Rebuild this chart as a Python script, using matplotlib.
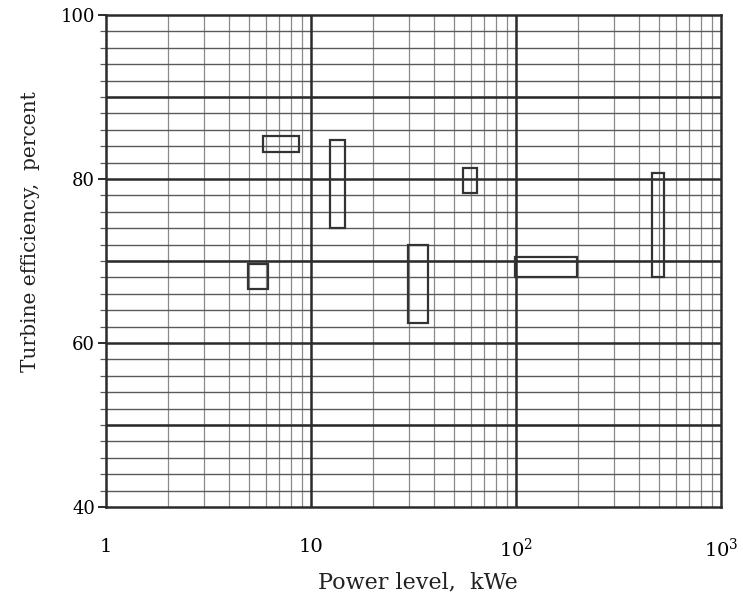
import numpy as np
import matplotlib
matplotlib.use('Agg')
import matplotlib.pyplot as plt
from matplotlib.patches import Rectangle

# operating ranges of each turbine: power span (kWe) and efficiency span (percent)
power_low  = [5.8, 12.4, 4.9, 29.8, 55.3, 99.0, 462.0]
power_high = [8.7, 14.6, 6.2, 37.3, 64.3, 198.0, 529.0]
eff_low    = [83.3, 74.0, 66.6, 62.4, 78.3, 68.1, 68.0]
eff_high   = [85.2, 84.8, 69.6, 72.0, 81.4, 70.5, 80.7]

x_ticks = [1, 10, 100, 1000]
x_tick_labels = ["1", "10", r"$10^2$", r"$10^3$"]
y_ticks = [40, 60, 80, 100]

plt.rcParams['font.family'] = ['DejaVu Serif']
plt.rcParams['mathtext.fontset'] = 'dejavuserif'

fig = plt.figure(figsize=(7.43, 5.96), dpi=100)
ax = fig.add_axes([0.1427, 0.1493, 0.8277, 0.8255])
ax.set_xscale('log')
ax.set_xlim(1, 1000)
ax.set_ylim(40, 100)

ink = '#2b2b2b'

# graph-paper grid: heavy lines on decades / every 10 %, light ones in between
ax.set_xticks(x_ticks)
ax.set_xticks([m * d for d in (1, 10, 100) for m in range(2, 10)], minor=True)
ax.set_yticks(y_ticks)
ax.set_yticks(np.arange(40, 101, 2), minor=True)
ax.set_axisbelow(True)
ax.xaxis.grid(which='minor', color='#8a8a8a', lw=0.9)
ax.yaxis.grid(which='minor', color='#5a5a5a', lw=1.0)
for v in (10, 100):
    ax.axvline(v, color=ink, lw=1.8, zorder=1)
for h in (50, 60, 70, 80, 90):
    ax.axhline(h, color=ink, lw=1.8, zorder=1)

for s in ax.spines.values():
    s.set_color(ink)
    s.set_linewidth(1.8)

ax.set_xticklabels(x_tick_labels, fontsize=14)
ax.set_yticklabels([str(t) for t in y_ticks], fontsize=13)
ax.tick_params(axis='x', which='both', length=0, pad=22)
ax.tick_params(axis='y', which='major', length=6, width=1.4, color=ink, pad=2)
ax.tick_params(axis='y', which='minor', length=4, width=0.9, color='#5a5a5a')

# each turbine drawn as an open box over its ranges
for x0, x1, y0, y1 in zip(power_low, power_high, eff_low, eff_high):
    ax.add_patch(Rectangle((x0, y0), x1 - x0, y1 - y0, fill=False,
                           edgecolor='#333333', lw=1.6, zorder=3))

fig.text(418 / 743, 1 - 582 / 596, "Power level,  kWe", fontsize=16,
         ha='center', va='center', color='#222222')
fig.text(31 / 743, 1 - 232 / 596, "Turbine efficiency,  percent", fontsize=14.5,
         ha='center', va='center', rotation=90, color='#222222')

fig.savefig("out.png", dpi=100)
